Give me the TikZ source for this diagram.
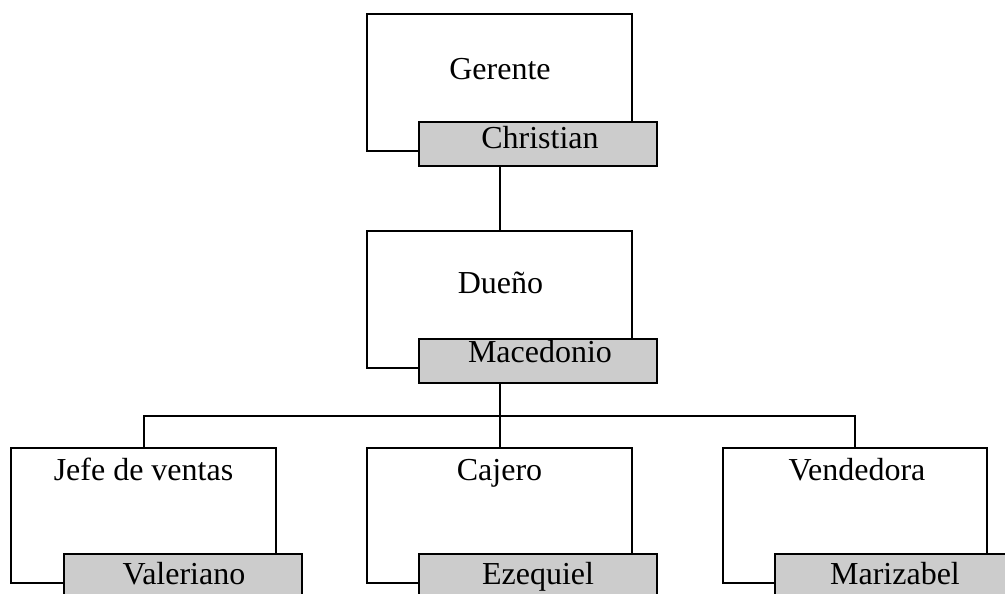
\documentclass[tikz,border=0pt]{standalone}
\usepackage{fontspec}
\setmainfont{Liberation Serif}
\definecolor{boxgray}{RGB}{204,204,204}
\begin{document}
\begin{tikzpicture}[x=1pt,y=-1pt,
  wbox/.style={draw=black,line width=2pt,fill=white,rectangle,inner sep=0pt,minimum width=265pt,minimum height=137pt},
  gbox/.style={draw=black,line width=2pt,fill=boxgray,rectangle,inner sep=0pt,minimum width=238pt,minimum height=44pt},
  lbl/.style={anchor=base,font=\fontsize{32}{38}\selectfont,inner sep=0pt},
  conn/.style={line width=2pt}]
\clip (0,0) rectangle (1005,594);
\node[wbox] (ger) at (499.5,82.5) {};
\node[wbox] (due) at (499.5,299.5) {};
\node[wbox,minimum height=135pt] (jef) at (143.5,515.5) {};
\node[wbox,minimum height=135pt] (caj) at (499.5,515.5) {};
\node[wbox,minimum height=135pt,minimum width=264pt] (ven) at (855,515.5) {};
\node[gbox] (chr) at (538,144) {};
\node[gbox] (mac) at (538,360.5) {};
\node[gbox] (val) at (183,576) {};
\node[gbox] (eze) at (538,576) {};
\node[gbox] (mar) at (894,576) {};
\coordinate (hub) at (499.5,416);
\draw[conn] (ger.center |- chr.south) -- (due.north);
\draw[conn] (due.center |- mac.south) -- (hub);
\draw[conn] (jef.north) -- (jef.north |- hub) -- (ven.north |- hub) -- (ven.north);
\draw[conn] (hub) -- (caj.north);
\node[lbl] (tger) at (500,80) {Gerente};
\node[lbl] (tchr) at (540,148) {Christian};
\node[lbl] (tdue) at (500.5,293) {Dueño};
\node[lbl] (tmac) at (540,362) {Macedonio};
\node[lbl] (tjef) at (143.5,480) {Jefe de ventas};
\node[lbl] (tcaj) at (499.5,480) {Cajero};
\node[lbl] (tven) at (857,480) {Vendedora};
\node[lbl] (tval) at (184,584) {Valeriano};
\node[lbl] (teze) at (538,584) {Ezequiel};
\node[lbl] (tmar) at (895,584) {Marizabel};
\end{tikzpicture}
\end{document}
